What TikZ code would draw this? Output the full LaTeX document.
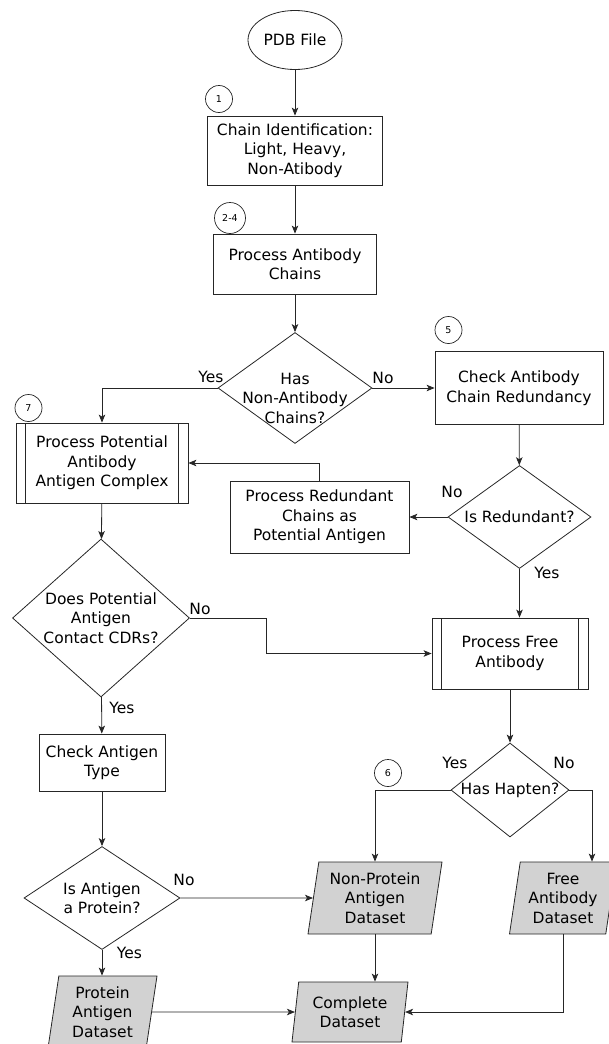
\documentclass[tikz,border=0pt]{standalone}
\usepackage{fontspec}
\setmainfont{DejaVu Sans}
\usetikzlibrary{arrows.meta,shapes.geometric,calc}
\newcommand{\flowfont}{\fontsize{15.5}{19.5}\selectfont}
\newcommand{\markfont}{\fontsize{9.5}{11}\selectfont}
\tikzset{
  base/.style={draw=black!85, line width=0.8pt, font=\flowfont, align=center},
  stepbox/.style={base, rectangle, inner sep=2pt},
  subproc/.style={stepbox, path picture={
    \draw[line width=0.8pt, black!85]
      ([xshift=9.5pt]path picture bounding box.north west) -- ([xshift=9.5pt]path picture bounding box.south west)
      ([xshift=-9.5pt]path picture bounding box.north east) -- ([xshift=-9.5pt]path picture bounding box.south east);}},
  decision/.style={base, diamond, inner sep=0pt},
  dtext/.style={font=\flowfont, align=center, inner sep=0pt},
  dataset/.style={base, fill=gray!35, trapezium, trapezium left angle=78, trapezium right angle=102,
    trapezium stretches body, inner sep=0pt},
  startnode/.style={base, ellipse, inner sep=0pt},
  marker/.style={draw=black!85, line width=0.7pt, circle, inner sep=0pt, font=\markfont},
  answer/.style={font=\flowfont, inner sep=0pt},
  flow/.style={draw=black!85, line width=0.8pt, -{Stealth[length=8pt,width=6.5pt,inset=2pt]}}
}
\begin{document}
\begin{tikzpicture}[x=1pt,y=-1pt]
\useasboundingbox (0,0) rectangle (608,1044);
% main column
\node[startnode, minimum width=94pt, minimum height=59pt] (pdb) at (295,40) {PDB File};
\node[stepbox, minimum width=175pt, minimum height=69pt] (chainid) at (295,150.5) {Chain Identification:\\Light, Heavy,\\Non-Atibody};
\node[stepbox, minimum width=163pt, minimum height=60pt] (abchains) at (295,264) {Process Antibody\\Chains};
\node[decision, minimum width=154pt, minimum height=111pt,
  label={[dtext,yshift=-10pt]center:Has\\Non-Antibody\\Chains?}] (hasnon) at (295,388) {};
% right branch
\node[stepbox, minimum width=168pt, minimum height=73pt] (checkred) at (519,388) {Check Antibody\\Chain Redundancy};
\node[decision, minimum width=143pt, minimum height=103pt,
  label={[dtext]center:Is Redundant?}] (isred) at (519.5,517) {};
\node[stepbox, minimum width=179pt, minimum height=72pt] (redund) at (319.5,517) {Process Redundant\\Chains as\\Potential Antigen};
\node[subproc, minimum width=156pt, minimum height=71pt] (free) at (510,653.5) {Process Free\\Antibody};
\node[decision, minimum width=118pt, minimum height=94pt,
  label={[dtext]center:Has Hapten?}] (hapten) at (510,790) {};
% left branch
\node[subproc, minimum width=172pt, minimum height=80pt] (complex) at (102,463) {Process Potential\\Antibody\\Antigen Complex};
\node[decision, minimum width=177pt, minimum height=158pt,
  label={[dtext]center:Does Potential\\Antigen\\Contact CDRs?}] (contact) at (101,618) {};
\node[stepbox, minimum width=126pt, minimum height=57pt] (agtype) at (102,762.5) {Check Antigen\\Type};
\node[decision, minimum width=156pt, minimum height=103pt,
  label={[dtext]center:Is Antigen\\a Protein?}] (isprot) at (102,898) {};
% datasets
\node[dataset, minimum width=134pt, minimum height=72pt] (np) at (375,898) {Non-Protein\\Antigen\\Dataset};
\node[dataset, minimum width=107pt, minimum height=72pt] (fd) at (563,898) {Free\\Antibody\\Dataset};
\node[dataset, minimum width=109pt, minimum height=72pt] (prot) at (102.5,1012) {Protein\\Antigen\\Dataset};
\node[dataset, minimum width=116pt, minimum height=60pt] (comp) at (350,1012) {Complete\\Dataset};
% step markers
\node[marker, minimum size=27pt] (m1) at (219,99) {1};
\node[marker, minimum size=31pt] (m24) at (230,218) {2-4};
\node[marker, minimum size=27pt] (m5) at (448.5,330) {5};
\node[marker, minimum size=27pt] (m6) at (388,773) {6};
\node[marker, minimum size=27pt] (m7) at (28.5,408) {7};
% answers
\node[answer] (hasyes) at (211,377) {Yes};
\node[answer] (hasno) at (383,378) {No};
\node[answer] (redno) at (452,492) {No};
\node[answer] (redyes) at (547,573) {Yes};
\node[answer] (cdrno) at (200,609) {No};
\node[answer] (cdryes) at (122,708) {Yes};
\node[answer] (protno) at (184,880) {No};
\node[answer] (protyes) at (129.5,953) {Yes};
\node[answer] (haptyes) at (455,763) {Yes};
\node[answer] (haptno) at (564,763) {No};
% connectors
\path[flow] (pdb) -- (chainid);
\path[flow] (chainid) -- (abchains);
\path[flow] (abchains) -- (hasnon);
\path[flow] (hasnon.west) -| (complex.north);
\path[flow] (hasnon.east) -- (checkred.west);
\path[flow] (checkred) -- (isred);
\path[flow] (isred.west) -- (redund.east);
\path[flow] (redund.north) |- (complex.east);
\path[flow] (isred.south) -- (isred.south |- free.north);
\path[flow] (complex) -- (contact);
\path[flow] (contact.east) -- ++(76,0) |- (free.west);
\path[flow] (contact) -- (agtype);
\path[flow] (agtype) -- (isprot);
\path[flow] (isprot.east) -- (np.west);
\path[flow] (isprot.south) -- (isprot.south |- prot.north);
\path[flow] (free) -- (hapten);
\path[flow] (hapten.west) -| (np.north -| np.center);
\path[flow] (hapten.east) -| ([xshift=29pt]fd.north -| fd.center);
\path[flow] (np.south -| np.center) -- (np.center |- comp.north);
\path[flow] (prot.east) -- (comp.west);
\path[flow] (fd.south -| fd.center) |- (comp.east);
\end{tikzpicture}
\end{document}
